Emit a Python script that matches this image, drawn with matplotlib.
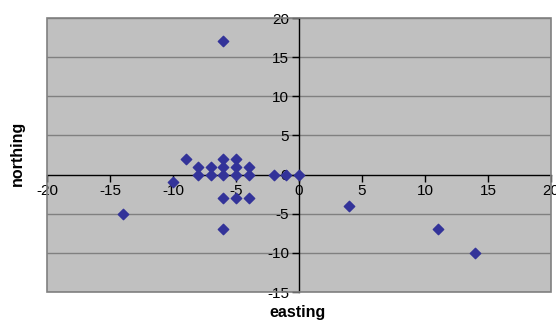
import matplotlib
matplotlib.use("Agg")
import matplotlib.pyplot as plt
from matplotlib.patches import Rectangle

plt.rcParams['font.family'] = ['Liberation Sans', 'DejaVu Sans']
plt.rcParams['axes.unicode_minus'] = False

# survey points (easting, northing)
easting = [-6, -9, -8, -7, -6, -6, -5, -5, -4,
           -8, -7, -6, -5, -4, -2, -1, 0,
           -10, -6, -5, -4, -14, -6, 4, 11, 14]
northing = [17, 2, 1, 1, 1, 2, 2, 1, 1,
            0, 0, 0, 0, 0, 0, 0, 0,
            -1, -3, -3, -3, -5, -7, -4, -7, -10]

x_ticks = [-20, -15, -10, -5, 0, 5, 10, 15, 20]
y_ticks = [-15, -10, -5, 0, 5, 10, 15, 20]

fig = plt.figure(figsize=(5.56, 3.23), dpi=100)
ax = fig.add_axes([47 / 556, 1 - 292 / 323, 504 / 556, 274 / 323])
ax.set_facecolor('#C0C0C0')

ax.set_xlim(-20, 20)
ax.set_ylim(-15, 20)

# horizontal gridlines
for y in y_ticks:
    if y != 0:
        ax.axhline(y, color='#808080', lw=1, zorder=1)

# axes crossing at origin
for s in ['top', 'right']:
    ax.spines[s].set_visible(False)
for s in ['left', 'bottom']:
    ax.spines[s].set_position(('data', 0))
    ax.spines[s].set_color('black')
    ax.spines[s].set_linewidth(1)
    ax.spines[s].set_zorder(2)

# outer frame of plot area
ax.add_patch(Rectangle((0, 0), 1, 1, transform=ax.transAxes, fill=False,
                       edgecolor='#808080', lw=1.2, zorder=3, clip_on=False))

ax.set_xticks(x_ticks)
ax.set_yticks(y_ticks)
ax.set_xticklabels([str(v) for v in x_ticks])
ax.set_yticklabels([str(v) for v in y_ticks])
ax.tick_params(axis='both', direction='out', length=5, width=1,
               labelsize=11, colors='black', pad=2)

ax.scatter(easting, northing, marker='D', s=28, color='#333399',
           edgecolors='#333399', zorder=4, clip_on=False)

fig.text(298 / 556, 1 - 313 / 323, 'easting', ha='center', va='center',
         fontsize=11.5, fontweight='bold')
fig.text(17 / 556, 1 - 153 / 323, 'northing', ha='center', va='center',
         rotation=90, fontsize=11.5, fontweight='bold')

fig.savefig('out.png', dpi=100, facecolor='white')
